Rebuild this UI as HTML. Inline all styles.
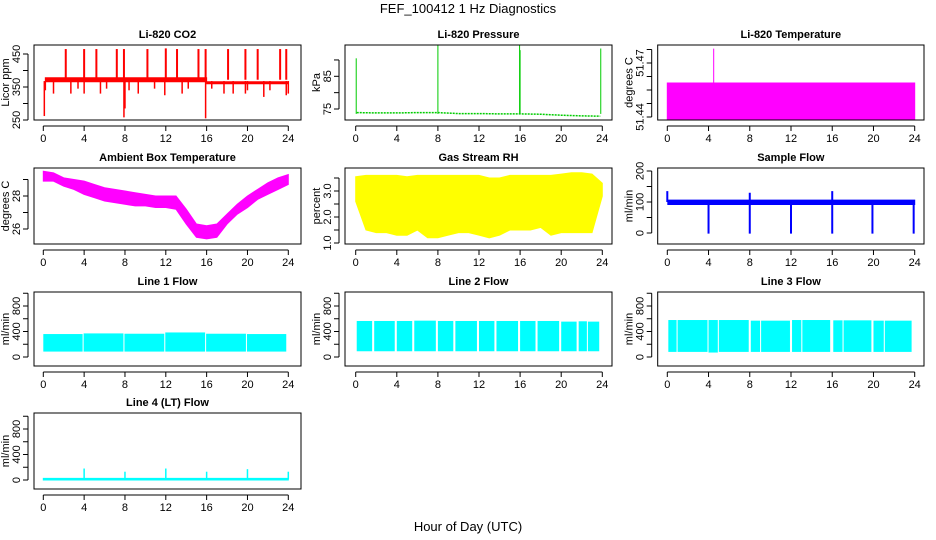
<!DOCTYPE html>
<html><head><meta charset="utf-8"><style>
html,body{margin:0;padding:0;background:#fff}
svg{display:block;font-family:"Liberation Sans",Arial,sans-serif}
</style></head><body>
<svg id="c" width="936" height="540" xmlns="http://www.w3.org/2000/svg">
<text x="468" y="13" font-size="13" text-anchor="middle">FEF_100412  1 Hz Diagnostics</text>
<text x="468" y="531" font-size="13" text-anchor="middle">Hour of Day (UTC)</text>
</svg>
<script>
// ---------- data ----------
const xTicks=[0,4,8,12,16,20,24];
// CO2
const co2BandT=[0.2,16,16,24];
const co2BandLo=[366,366,360,360];
const co2BandHi=[378,378,366,366];
const co2UpT=[2.2,4.0,5.2,7.2,7.9,10.2,12.0,13.1,15.2,15.9,18.1,19.8,21.0,23.2,23.8];
const co2UpV=[465,465,465,465,465,465,467,465,465,465,465,465,465,465,465];
const co2DnT=[0.1,0.2,1.0,2.7,3.4,4.0,5.6,6.2,7.9,8.0,8.4,9.3,10.9,11.9,13.6,14.2,15.9,16.5,17.7,18.6,19.8,20.0,21.6,22.2,23.8,24.0];
const co2DnV=[262,340,330,330,345,330,330,345,258,285,340,330,345,325,330,345,255,345,330,330,330,340,320,340,325,330];
// Pressure
const presT=[0.1,2,4,6,8,10,12,14,16,18,20,22,23.8];
const presV=[73.9,73.8,73.8,73.9,73.9,73.6,73.6,73.5,73.5,73.4,73.1,72.9,72.8];
const presSpT=[0.05,8.0,15.95,16.0,23.85];
const presSpV=[90.5,95.5,94.5,93,93.5];
// Li-820 temperature
const tempT=[0,24];
const tempLo=[51.4389,51.4389];
const tempHi=[51.4589,51.4589];
const tempSpT=[4.5];
const tempSpV=[51.478];
// Ambient box temperature (hourly envelope)
const ambT=[0,1,2,3,4,5,6,7,8,9,10,11,12,13,14,15,16,17,18,19,20,21,22,23,24];
const ambHi=[29.5,29.4,29.1,29.0,28.9,28.7,28.5,28.4,28.3,28.2,28.1,28.0,28.0,28.0,27.2,26.3,26.2,26.3,26.9,27.5,28.0,28.4,28.8,29.1,29.3];
const ambLo=[28.9,28.9,28.6,28.4,28.1,27.9,27.7,27.6,27.5,27.4,27.4,27.3,27.3,27.2,26.3,25.5,25.4,25.5,26.3,26.9,27.3,27.8,28.1,28.4,28.7];
// Gas stream RH
const rhT=[0,1,2,3,4,5,6,7,8,9,10,11,12,13,14,15,16,17,18,19,20,21,22,23,24];
const rhHi=[3.55,3.6,3.6,3.6,3.6,3.55,3.6,3.6,3.6,3.6,3.6,3.6,3.6,3.5,3.5,3.6,3.6,3.6,3.6,3.6,3.65,3.7,3.7,3.65,3.3];
const rhLo=[2.6,1.5,1.4,1.4,1.3,1.3,1.5,1.2,1.2,1.3,1.4,1.4,1.3,1.2,1.3,1.5,1.5,1.5,1.6,1.3,1.4,1.4,1.4,1.4,2.8];
// Sample flow
const sfBandT=[0.05,24];
const sfLo=[92,92];
const sfHi=[106,106];
const sfDnT=[4.0,8.0,12.0,16.0,19.9,23.9];
const sfDnV=[-2,-2,-2,-2,-2,-2];
const sfUpT=[0.0,8.0,16.0];
const sfUpV=[135,130,135];
// Line flows: segments
const l1Start=[0.0,3.95,7.95,11.95,15.95,19.95];
const l1End=[3.85,7.85,11.85,15.85,19.85,23.8];
const l1Top=[360,370,365,385,365,360];
const l1Bot=[85,85,85,85,85,85];
const l2Start=[0.1,1.8,4.0,5.7,8.0,9.7,12.0,13.7,16.0,17.7,20.0,21.7,22.6];
const l2End=[1.6,3.8,5.5,7.8,9.5,11.8,13.5,15.8,17.5,19.8,21.5,22.5,23.7];
const l2Top=[565,565,565,570,565,565,565,565,565,565,555,560,555];
const l2Bot=[90,90,90,90,90,90,90,90,90,90,90,90,90];
const l3Start=[0.1,1.0,4.0,5.0,8.1,9.1,12.1,13.1,16.1,17.1,20.0,21.1];
const l3End=[0.9,3.9,4.9,7.9,9.0,11.9,13.0,15.8,17.0,19.8,21.0,23.7];
const l3Top=[580,580,580,580,570,570,580,580,575,575,570,570];
const l3Bot=[80,80,70,80,80,80,80,80,80,80,80,80];
const l4T=[4.0,8.0,12.0,16.0,20.0,24.0];
const l4V=[180,130,180,130,170,130];

// ---------- helpers ----------
const NS="http://www.w3.org/2000/svg";
const svg=document.getElementById('c');
const cols=[{l:34,r:301,x0:43.3,x24:288.3},{l:345,r:612,x0:355.7,x24:602.3},{l:657.7,r:924,x0:667.3,x24:914.7}];
const rows=[{t:45,b:120},{t:168,b:244},{t:292,b:366},{t:413,b:489}];
function mk(tag,attrs,parent){const e=document.createElementNS(NS,tag);for(const k in attrs)e.setAttribute(k,attrs[k]);(parent||svg).appendChild(e);return e;}
let clipN=0;
function panel(name,ci,ri,title,ylab,v1,p1,v2,p2,ticks,labels){
  const c=cols[ci],r=rows[ri];
  const g=mk('g',{});
  
  
  const X=t=>c.x0+(t/24)*(c.x24-c.x0);
  const Y=v=>p1+(v-v1)*(p2-p1)/(v2-v1);
  const id='cl'+(clipN++);
  const cp=mk('clipPath',{id:id},g);mk('rect',{x:c.l,y:r.t,width:c.r-c.l,height:r.b-r.t},cp);
  const plot=mk('g',{'clip-path':'url(#'+id+')'},g);
  
  
  const box=mk('rect',{x:c.l,y:r.t,width:c.r-c.l,height:r.b-r.t,fill:'none',stroke:'#000','stroke-width':1},g);
  
  
  const tt=mk('text',{x:(c.l+c.r)/2,y:r.t-7,'font-size':11,'font-weight':'bold','text-anchor':'middle'},g);tt.textContent=title;
  
  
  // x axis
  mk('line',{x1:X(0),x2:X(24),y1:r.b+6,y2:r.b+6,stroke:'#000'},g);
  xTicks.forEach(t=>{mk('line',{x1:X(t),x2:X(t),y1:r.b+6,y2:r.b+11,stroke:'#000'},g);
    const tx=mk('text',{x:X(t),y:r.b+22,'font-size':11,'text-anchor':'middle'},g);tx.textContent=t;
    
    });
  // y axis
  const ax=c.l-6;
  mk('line',{x1:ax,x2:ax,y1:Y(ticks[0]),y2:Y(ticks[ticks.length-1]),stroke:'#000'},g);
  ticks.forEach((v,i)=>{mk('line',{x1:ax-5,x2:ax,y1:Y(v),y2:Y(v),stroke:'#000'},g);
    if(labels[i]!==''){const ty=mk('text',{x:0,y:0,'font-size':11,'text-anchor':'middle',transform:'translate('+(c.l-14)+','+Y(v)+') rotate(-90)'},g);ty.textContent=labels[i];
    
    }});
  const yl=mk('text',{x:0,y:0,'font-size':11,'text-anchor':'middle',transform:'translate('+(c.l-25)+','+((r.t+r.b)/2)+') rotate(-90)'},g);yl.textContent=ylab;
  
  
  return {X,Y,plot};
}
function band(p,T,lo,hi,col){
  const pts=T.map((t,i)=>p.X(t)+','+p.Y(hi[i])).concat(T.map((t,i)=>p.X(t)+','+p.Y(lo[i])).reverse());
  const e=mk('polygon',{points:pts.join(' '),fill:col,stroke:col,'stroke-width':1},p.plot);
  
  
}
function spikes(p,T,V,base,col,w){
  T.forEach((t,i)=>{const e=mk('line',{x1:p.X(t),x2:p.X(t),y1:p.Y(base),y2:p.Y(V[i]),stroke:col,'stroke-width':w||1.5},p.plot);
    
    });
}
function segs(p,S,E,Top,Bot,col){
  S.forEach((s,i)=>{const e=mk('rect',{x:p.X(s),y:p.Y(Top[i]),width:p.X(E[i])-p.X(s),height:p.Y(Bot[i])-p.Y(Top[i]),fill:col},p.plot);
    
    });
}

// ---------- panels ----------
let p;
p=panel('co2',0,0,'Li-820 CO2','Licor ppm',250,120,450,54,[250,300,350,400,450],['250','','350','','450']);
band(p,co2BandT,co2BandLo,co2BandHi,'#ff0000');
spikes(p,co2UpT,co2UpV,372,'#ff0000',2);
spikes(p,co2DnT,co2DnV,368,'#ff0000',1.5);

p=panel('pressure',1,0,'Li-820 Pressure','kPa',75,109,85,76.3,[75,80,85,90],['75','','85','']);
{const e=mk('polyline',{points:presT.map((t,i)=>p.X(t)+','+p.Y(presV[i])).join(' '),fill:'none',stroke:'#00cc00','stroke-width':1.5,'stroke-dasharray':'2,1'},p.plot);

}
spikes(p,presSpT,presSpV,73.5,'#00cc00',1);

p=panel('li820-temp',2,0,'Li-820 Temperature','degrees C',51.44,117,51.47,63,[51.44,51.4475,51.455,51.4625,51.47,51.4775],['51.44','','','','51.47','']);
band(p,tempT,tempLo,tempHi,'#ff00ff');
spikes(p,tempSpT,tempSpV,51.45,'#ff00ff',1);

p=panel('ambient-temp',0,1,'Ambient Box Temperature','degrees C',26,229,28,196,[26,27,28,29],['26','','28','']);
band(p,ambT,ambLo,ambHi,'#ff00ff');

p=panel('gas-rh',1,1,'Gas Stream RH','percent',1,243,3,191,[1,1.5,2,2.5,3,3.5],['1.0','','2.0','','3.0','']);
band(p,rhT,rhLo,rhHi,'#ffff00');

p=panel('sample-flow',2,1,'Sample Flow','ml/min',0,233,200,171,[0,50,100,150,200],['0','','100','','200']);
band(p,sfBandT,sfLo,sfHi,'#0000ff');
spikes(p,sfDnT,sfDnV,95,'#0000ff',2);
spikes(p,sfUpT,sfUpV,100,'#0000ff',2);

const fT=[0,200,400,600,800,1000],fL=['0','','400','','800',''];
p=panel('line1-flow',0,2,'Line 1 Flow','ml/min',0,357,400,331.5,fT,fL);
segs(p,l1Start,l1End,l1Top,l1Bot,'#00ffff');
p=panel('line2-flow',1,2,'Line 2 Flow','ml/min',0,357,400,331.5,fT,fL);
segs(p,l2Start,l2End,l2Top,l2Bot,'#00ffff');
p=panel('line3-flow',2,2,'Line 3 Flow','ml/min',0,357,400,331.5,fT,fL);
segs(p,l3Start,l3End,l3Top,l3Bot,'#00ffff');
p=panel('line4-flow',0,3,'Line 4 (LT) Flow','ml/min',0,480,400,454.5,fT,fL);
band(p,[0,24],[0,0],[25,25],'#00ffff');
spikes(p,l4T,l4V,10,'#00ffff',1.5);
</script>
</body></html>
